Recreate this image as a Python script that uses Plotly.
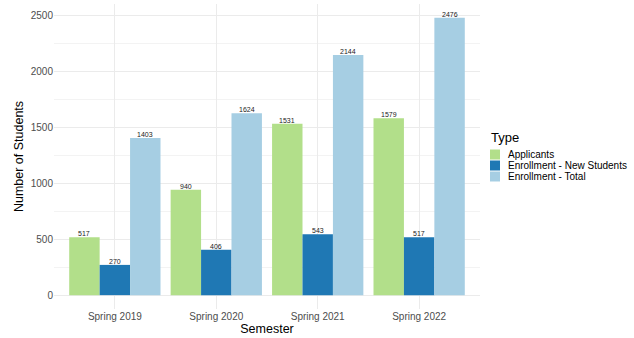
import plotly.graph_objects as go

semesters = ["Spring 2019", "Spring 2020", "Spring 2021", "Spring 2022"]
applicants = [517, 940, 1531, 1579]
new_students = [270, 406, 543, 517]
total = [1403, 1624, 2144, 2476]
series_names = ["Applicants", "Enrollment - New Students", "Enrollment - Total"]
colors = ["#B2DF8A", "#1F78B4", "#A6CEE3"]

W, H = 634, 338
L, R, T, B = 54, 480, 4, 309
XRANGE = [-0.6, 3.6]
BAR_W = 0.3  # category units per bar (0.9 group / 3)

fig = go.Figure()
px_per_unit = (R - L) / (XRANGE[1] - XRANGE[0])
annotations = []
for i, (name, vals, col) in enumerate(zip(series_names, [applicants, new_students, total], colors)):
    fig.add_trace(go.Bar(
        x=semesters, y=vals, name=name, marker=dict(color=col, line=dict(width=0)),
        showlegend=False,
    ))
    offset_px = (i - 1) * BAR_W * px_per_unit
    for s, v in zip(semesters, vals):
        annotations.append(dict(x=s, y=v, xref="x", yref="y", text=str(v), showarrow=False,
                                xanchor="center", yanchor="bottom", xshift=offset_px, yshift=-2,
                                font=dict(size=7, color="#222222", family="Liberation Sans, Arial")))

def px2x(px):
    return (px - L) / (R - L)

def py2y(py):
    return (B - py) / (B - T)

shapes = []
annotations.append(dict(x=px2x(489), y=py2y(137), xref="paper", yref="paper", text="Type",
                        showarrow=False, xanchor="left", yanchor="middle",
                        font=dict(size=13, color="#000000", family="Liberation Sans, Arial")))
centers = [154.5, 165.5, 176.5]
for name, col, cy in zip(series_names, colors, centers):
    shapes.append(dict(type="rect", xref="paper", yref="paper",
                       x0=px2x(490), x1=px2x(500), y0=py2y(cy + 5), y1=py2y(cy - 5),
                       fillcolor=col, line=dict(width=0)))
    annotations.append(dict(x=px2x(506), y=py2y(cy), xref="paper", yref="paper", text=name,
                            showarrow=False, xanchor="left", yanchor="middle",
                            font=dict(size=10, color="#000000", family="Liberation Sans, Arial")))

fig.update_layout(
    width=W, height=H,
    margin=dict(l=L, r=W - R, t=T, b=H - B),
    paper_bgcolor="white", plot_bgcolor="white",
    barmode="group", bargap=0.1, bargroupgap=0,
    font=dict(family="Liberation Sans, Arial", color="#000000"),
    shapes=shapes, annotations=annotations,
    xaxis=dict(
        range=XRANGE, showgrid=True, gridcolor="#EBEBEB", gridwidth=1,
        zeroline=False, showline=False, ticks="",
        tickfont=dict(size=10, color="#4D4D4D"),
        title=dict(text="Semester", font=dict(size=12.5, color="#000000"), standoff=1),
    ),
    yaxis=dict(
        range=[-123.8, 2599.8], tickvals=[0, 500, 1000, 1500, 2000, 2500],
        showgrid=True, gridcolor="#EBEBEB", gridwidth=1,
        minor=dict(tickvals=[250, 750, 1250, 1750, 2250], showgrid=True, gridcolor="#F3F3F3", gridwidth=0.6),
        zeroline=False, showline=False, ticks="",
        tickfont=dict(size=10, color="#4D4D4D"),
        title=dict(text="Number of Students", font=dict(size=12.5, color="#000000"), standoff=4),
    ),
)

fig.write_html("out.html")
